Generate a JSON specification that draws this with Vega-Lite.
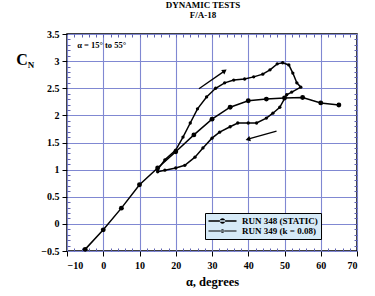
{
  "$schema": "https://vega.github.io/schema/vega-lite/v6.json",
  "width": 290,
  "height": 217,
  "autosize": {"type": "none"},
  "padding": {"left": 67, "top": 34, "right": 18, "bottom": 45},
  "background": "white",
  "config": {
    "view": {"stroke": "black", "strokeWidth": 1.5},
    "font": "Liberation Serif",
    "axis": {"labelFont": "Liberation Serif", "labelFontWeight": "bold", "titleFont": "Liberation Serif", "titleFontWeight": "bold", "labelColor": "black", "titleColor": "black"}
  },
  "title": {"text": ["DYNAMIC TESTS", "F/A-18"], "font": "Liberation Serif", "fontSize": 9, "fontWeight": "bold", "lineHeight": 10, "anchor": "middle", "offset": 9, "dx": -9, "color": "black"},
  "datasets": {
    "static": [
      {"alpha": -5, "cn": -0.47}, {"alpha": 0, "cn": -0.11}, {"alpha": 5, "cn": 0.29}, {"alpha": 10, "cn": 0.72},
      {"alpha": 15, "cn": 1.03}, {"alpha": 20, "cn": 1.33}, {"alpha": 25, "cn": 1.64}, {"alpha": 30, "cn": 1.93},
      {"alpha": 35, "cn": 2.15}, {"alpha": 40, "cn": 2.27}, {"alpha": 45, "cn": 2.3}, {"alpha": 50, "cn": 2.32},
      {"alpha": 55, "cn": 2.33}, {"alpha": 60, "cn": 2.23}, {"alpha": 65, "cn": 2.19}
    ],
    "dynamic": [
      {"i": 1, "alpha": 15, "cn": 1.0}, {"i": 2, "alpha": 17, "cn": 1.18}, {"i": 3, "alpha": 20, "cn": 1.36},
      {"i": 4, "alpha": 22, "cn": 1.6}, {"i": 5, "alpha": 24, "cn": 1.86}, {"i": 6, "alpha": 26, "cn": 2.12},
      {"i": 7, "alpha": 28.5, "cn": 2.34}, {"i": 8, "alpha": 31, "cn": 2.5}, {"i": 9, "alpha": 33.5, "cn": 2.6},
      {"i": 10, "alpha": 36, "cn": 2.65}, {"i": 11, "alpha": 39, "cn": 2.67}, {"i": 12, "alpha": 41.5, "cn": 2.71},
      {"i": 13, "alpha": 44, "cn": 2.76}, {"i": 14, "alpha": 46, "cn": 2.84}, {"i": 15, "alpha": 48, "cn": 2.95},
      {"i": 16, "alpha": 49.5, "cn": 2.97}, {"i": 17, "alpha": 51.2, "cn": 2.93}, {"i": 18, "alpha": 52.3, "cn": 2.78},
      {"i": 19, "alpha": 53.4, "cn": 2.6}, {"i": 20, "alpha": 54.5, "cn": 2.52}, {"i": 21, "alpha": 52, "cn": 2.43},
      {"i": 22, "alpha": 50.6, "cn": 2.38}, {"i": 23, "alpha": 48.7, "cn": 2.15}, {"i": 24, "alpha": 46.8, "cn": 2.04},
      {"i": 25, "alpha": 45, "cn": 1.95}, {"i": 26, "alpha": 42.3, "cn": 1.86}, {"i": 27, "alpha": 40, "cn": 1.86},
      {"i": 28, "alpha": 37.1, "cn": 1.86}, {"i": 29, "alpha": 35, "cn": 1.79}, {"i": 30, "alpha": 32.1, "cn": 1.69},
      {"i": 31, "alpha": 30, "cn": 1.58}, {"i": 32, "alpha": 27.5, "cn": 1.4}, {"i": 33, "alpha": 25.3, "cn": 1.23},
      {"i": 34, "alpha": 22.5, "cn": 1.08}, {"i": 35, "alpha": 20, "cn": 1.03}, {"i": 36, "alpha": 17, "cn": 0.99},
      {"i": 37, "alpha": 15, "cn": 0.96}
    ],
    "arrows": [
      {"a1": 26.4, "c1": 2.49, "a2": 33.5, "c2": 2.82},
      {"a1": 47.8, "c1": 1.71, "a2": 39.9, "c2": 1.56}
    ],
    "headUp": [{"alpha": 33.5, "cn": 2.82}],
    "headDown": [{"alpha": 39.9, "cn": 1.56}],
    "legendRows": [
      {"series": "RUN 348 (STATIC)", "alpha": 0, "cn": 0},
      {"series": "RUN 349 (k = 0.08)", "alpha": 0, "cn": 0}
    ]
  },
  "resolve": {"axis": {"x": "independent", "y": "independent"}},
  "layer": [
    {
      "data": {"name": "static"},
      "mark": {"type": "line", "color": "black", "strokeWidth": 1.5},
      "encoding": {
        "x": {"field": "alpha", "type": "quantitative", "scale": {"domain": [-10, 70], "nice": false, "zero": false},
          "axis": {"title": "α, degrees", "titleFontSize": 12.5, "titlePadding": 5, "values": [-10, 0, 10, 20, 30, 40, 50, 60, 70], "labelFontSize": 10, "labelPadding": 4, "tickSize": 5, "tickColor": "black", "domain": false, "grid": true, "gridColor": "#8088d2", "gridWidth": 1.1}},
        "y": {"field": "cn", "type": "quantitative", "scale": {"domain": [-0.5, 3.5], "nice": false, "zero": false},
          "axis": {"title": null, "values": [-0.5, 0, 0.5, 1, 1.5, 2, 2.5, 3, 3.5], "format": ".1~f", "labelFontSize": 10, "labelPadding": 3, "tickSize": 5, "tickColor": "black", "domain": false, "grid": true, "gridColor": "#8088d2", "gridWidth": 1.1}}
      }
    },
    {
      "data": {"name": "static"},
      "mark": {"type": "point", "filled": true, "color": "black", "size": 24, "opacity": 1},
      "encoding": {
        "x": {"field": "alpha", "type": "quantitative",
          "axis": {"title": null, "orient": "bottom", "labels": false, "domain": false, "grid": false, "tickSize": -3, "tickColor": "#5d60b0",
            "values": [-8, -6, -4, -2, 2, 4, 6, 8, 12, 14, 16, 18, 22, 24, 26, 28, 32, 34, 36, 38, 42, 44, 46, 48, 52, 54, 56, 58, 62, 64, 66, 68]}},
        "y": {"field": "cn", "type": "quantitative",
          "axis": {"title": null, "orient": "left", "labels": false, "domain": false, "grid": false, "tickSize": -3, "tickColor": "#5d60b0",
            "values": [-0.4, -0.3, -0.2, -0.1, 0.1, 0.2, 0.3, 0.4, 0.6, 0.7, 0.8, 0.9, 1.1, 1.2, 1.3, 1.4, 1.6, 1.7, 1.8, 1.9, 2.1, 2.2, 2.3, 2.4, 2.6, 2.7, 2.8, 2.9, 3.1, 3.2, 3.3, 3.4]}}
      }
    },
    {
      "data": {"name": "dynamic"},
      "mark": {"type": "line", "color": "black", "strokeWidth": 1.5},
      "encoding": {
        "x": {"field": "alpha", "type": "quantitative",
          "axis": {"title": null, "orient": "top", "labels": false, "domain": false, "grid": false, "tickSize": -3, "tickColor": "#5d60b0",
            "values": [-8, -6, -4, -2, 0, 2, 4, 6, 8, 10, 12, 14, 16, 18, 20, 22, 24, 26, 28, 30, 32, 34, 36, 38, 40, 42, 44, 46, 48, 50, 52, 54, 56, 58, 60, 62, 64, 66, 68]}},
        "y": {"field": "cn", "type": "quantitative",
          "axis": {"title": null, "orient": "right", "labels": false, "domain": false, "grid": false, "tickSize": -3, "tickColor": "#5d60b0",
            "values": [-0.4, -0.3, -0.2, -0.1, 0, 0.1, 0.2, 0.3, 0.4, 0.5, 0.6, 0.7, 0.8, 0.9, 1, 1.1, 1.2, 1.3, 1.4, 1.5, 1.6, 1.7, 1.8, 1.9, 2, 2.1, 2.2, 2.3, 2.4, 2.5, 2.6, 2.7, 2.8, 2.9, 3, 3.1, 3.2, 3.3, 3.4]}},
        "order": {"field": "i", "type": "quantitative"}
      }
    },
    {
      "data": {"name": "dynamic"},
      "mark": {"type": "point", "filled": true, "color": "black", "size": 11, "opacity": 1},
      "encoding": {
        "x": {"field": "alpha", "type": "quantitative", "axis": null},
        "y": {"field": "cn", "type": "quantitative", "axis": null}
      }
    },
    {
      "data": {"name": "arrows"},
      "mark": {"type": "rule", "color": "black", "strokeWidth": 1.3},
      "encoding": {
        "x": {"field": "a1", "type": "quantitative", "axis": null},
        "y": {"field": "c1", "type": "quantitative", "axis": null},
        "x2": {"field": "a2"},
        "y2": {"field": "c2"}
      }
    },
    {
      "data": {"name": "headUp"},
      "mark": {"type": "point", "shape": "triangle-up", "filled": true, "color": "black", "size": 30, "angle": 55, "opacity": 1},
      "encoding": {
        "x": {"field": "alpha", "type": "quantitative", "axis": null},
        "y": {"field": "cn", "type": "quantitative", "axis": null}
      }
    },
    {
      "data": {"name": "headDown"},
      "mark": {"type": "point", "shape": "triangle-up", "filled": true, "color": "black", "size": 30, "angle": 254, "opacity": 1},
      "encoding": {
        "x": {"field": "alpha", "type": "quantitative", "axis": null},
        "y": {"field": "cn", "type": "quantitative", "axis": null}
      }
    },
    {
      "data": {"values": [{"alpha": -7.2, "cn": 3.3, "t": "α = 15° to 55°"}]},
      "mark": {"type": "text", "align": "left", "baseline": "middle", "font": "Liberation Serif", "fontWeight": "bold", "fontSize": 8.5, "color": "black"},
      "encoding": {
        "x": {"field": "alpha", "type": "quantitative", "axis": null},
        "y": {"field": "cn", "type": "quantitative", "axis": null},
        "text": {"field": "t"}
      }
    },
    {
      "data": {"values": [{"alpha": -22.4, "cn": 3.02, "t": "C"}]},
      "mark": {"type": "text", "align": "center", "baseline": "middle", "font": "Liberation Serif", "fontWeight": "bold", "fontSize": 16, "color": "black"},
      "encoding": {
        "x": {"field": "alpha", "type": "quantitative", "axis": null},
        "y": {"field": "cn", "type": "quantitative", "axis": null},
        "text": {"field": "t"}
      }
    },
    {
      "data": {"values": [{"alpha": -19.9, "cn": 2.92, "t": "N"}]},
      "mark": {"type": "text", "align": "center", "baseline": "middle", "font": "Liberation Serif", "fontWeight": "bold", "fontSize": 9, "color": "black"},
      "encoding": {
        "x": {"field": "alpha", "type": "quantitative", "axis": null},
        "y": {"field": "cn", "type": "quantitative", "axis": null},
        "text": {"field": "t"}
      }
    },
    {
      "data": {"name": "legendRows"},
      "mark": {"type": "point", "opacity": 0, "filled": true, "color": "black", "size": 784},
      "encoding": {
        "x": {"field": "alpha", "type": "quantitative", "axis": null},
        "y": {"field": "cn", "type": "quantitative", "axis": null},
        "shape": {"field": "series", "type": "nominal",
          "scale": {"domain": ["RUN 348 (STATIC)", "RUN 349 (k = 0.08)"],
            "range": ["M-1,-0.045L1,-0.045L1,0.045L-1,0.045ZM-0.19,0A0.19,0.19,0,1,0,0.19,0A0.19,0.19,0,1,0,-0.19,0Z", "M-1,-0.04L1,-0.04L1,0.04L-1,0.04ZM-0.13,0A0.13,0.13,0,1,0,0.13,0A0.13,0.13,0,1,0,-0.13,0Z"]},
          "legend": {"title": null, "orient": "none", "legendX": 138, "legendY": 179, "padding": 3, "rowPadding": 0, "clipHeight": 10,
            "labelFont": "Liberation Serif", "labelFontWeight": "bold", "labelFontSize": 9, "labelColor": "black", "labelOffset": 5,
            "symbolOpacity": 1, "symbolFillColor": "black", "symbolStrokeColor": "black", "symbolStrokeWidth": 0.5, "symbolSize": 784,
            "fillColor": "#d6eaf7", "strokeColor": "black",
            "encode": {
              "legend": {"update": {"strokeWidth": {"value": 2}}},
              "symbols": {"update": {"fill": {"value": "black"}, "opacity": {"value": 1}}}
            }}}
      }
    }
  ]
}
